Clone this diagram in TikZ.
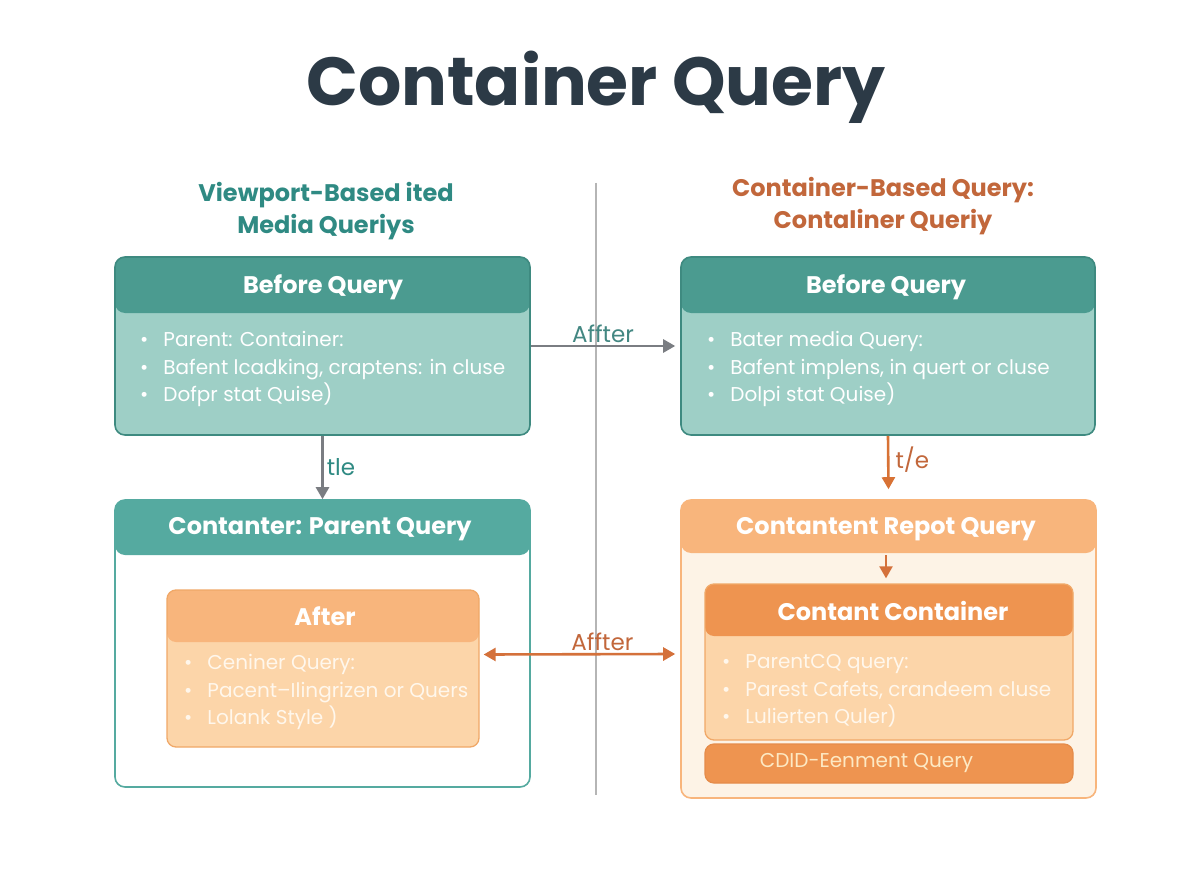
\documentclass[tikz,border=0pt]{standalone}
\usepackage{fontspec}
\setmainfont{Poppins}
\usetikzlibrary{arrows.meta,calc}
\definecolor{titlec}{HTML}{2C3A46}
\definecolor{tealh}{HTML}{4B9B90}
\definecolor{tealb}{HTML}{9ECFC6}
\definecolor{tealbd}{HTML}{3E8A80}
\definecolor{tealh2}{HTML}{55AAA0}
\definecolor{tealtx}{HTML}{2F8A83}
\definecolor{orgtx}{HTML}{C2673B}
\definecolor{peachh}{HTML}{F8B57C}
\definecolor{peachb}{HTML}{FCD5A9}
\definecolor{peachbd}{HTML}{F0A868}
\definecolor{creamb}{HTML}{FDF3E6}
\definecolor{orgh}{HTML}{EE9450}
\definecolor{orgbd}{HTML}{E58C4A}
\definecolor{cdidtx}{HTML}{FDE9C4}
\definecolor{grayar}{HTML}{7A7D82}
\definecolor{orgar}{HTML}{D4713B}
\definecolor{divc}{HTML}{B5B5B5}
\definecolor{softw}{HTML}{FFF7EC}
\tikzset{
  card/.style={rectangle, rounded corners=10pt, line width=1.6pt, inner sep=0pt},
  hdr/.style 2 args={path picture={\fill[#1] (path picture bounding box.north west) rectangle ([yshift=-#2]path picture bounding box.north east);}},
  hdrtext/.style={text=white, font=\bfseries\fontsize{24}{27}\selectfont},
  bul/.style={align=left, anchor=west, font=\fontsize{20}{27.5}\selectfont, inner sep=0pt},
  ghead/.style={align=center, font=\bfseries\fontsize{24}{32}\selectfont},
  arr/.style={line width=2.6pt, -{Triangle[width=13pt,length=12pt]}},
  darr/.style={line width=2.6pt, {Triangle[width=13pt,length=12pt]}-{Triangle[width=13pt,length=12pt]}},
  lbl/.style={font=\fontsize{23}{26}\selectfont, inner sep=1pt}
}
\newcommand{\bu}{•\hspace{15pt}}
\begin{document}
\begin{tikzpicture}[x=1pt,y=-1pt]
\useasboundingbox[fill=white] (0,0) rectangle (1184,880);
% title
\node[text=titlec, font=\bfseries\fontsize{68}{74}\selectfont] (title) at (596,87) {Container Query};
% divider
\coordinate (dtop) at (596,183);
\coordinate (dbot) at (596,795);
\draw[divc, line width=2.5pt] (dtop) -- (dbot);
% column headings
\node[ghead, text=tealtx] (lhead) at (326,211) {Viewport-Based ited\\Media Queriys};
\node[ghead, text=orgtx] (rhead) at (883,206) {Container-Based Query:\\Contaliner Queriy};
% left top card
\node[card, minimum width=415pt, minimum height=178pt, fill=tealb, draw=tealbd, hdr={tealh}{56pt}] (lt) at (322.5,346) {};
\node[hdrtext] (lth) at (323,287) {Before Query};
\node[bul, text=white] (ltb) at (140,369) {\bu Parent: Container:\\\bu Bafent lcadking, craptens: in cluse\\\bu Dofpr stat Quise)};
% right top card
\node[card, minimum width=414pt, minimum height=178pt, fill=tealb, draw=tealbd, hdr={tealh}{56pt}] (rt) at (888,346) {};
\node[hdrtext] (rth) at (886,287) {Before Query};
\node[bul, text=white] (rtb) at (707,369) {\bu Bater media Query:\\\bu Bafent implens, in quert or cluse\\\bu Dolpi stat Quise)};
% left bottom card
\node[card, minimum width=415pt, minimum height=287pt, fill=white, draw=tealh2, hdr={tealh2}{55pt}] (lb) at (322.5,643.5) {};
\node[hdrtext] (lbh) at (320,529) {Contanter: Parent Query};
\node[card, rounded corners=9pt, line width=1.3pt, minimum width=312pt, minimum height=157pt, fill=peachb, draw=peachbd, hdr={peachh}{52pt}] (la) at (323,668.5) {};
\node[hdrtext] (lah) at (325,616) {After};
\node[bul, text=softw] (lab) at (184,692) {\bu Ceniner Query:\\\bu Pacent–Ilingrizen or Quers\\\bu Lolank Style )};
% right bottom card
\node[card, minimum width=415pt, minimum height=298pt, fill=creamb, draw=peachh, hdr={peachh}{53pt}] (rb) at (888.5,649) {};
\node[hdrtext] (rbh) at (886,529) {Contantent Repot Query};
\node[card, rounded corners=9pt, line width=1.3pt, minimum width=368pt, minimum height=156pt, fill=peachb, draw=peachbd, hdr={orgh}{52pt}] (rc) at (889,662) {};
\node[hdrtext] (rch) at (893,611) {Contant Container};
\node[bul, text=softw] (rcb) at (722,691) {\bu ParentCQ query:\\\bu Parest Cafets, crandeem cluse\\\bu Lulierten Quler)};
\node[card, rounded corners=9pt, line width=1.2pt, minimum width=368pt, minimum height=39pt, fill=orgh, draw=orgbd, text=cdidtx, font=\fontsize{20}{22}\selectfont] (cdid) at (889,763.5) {\hspace{-45pt}CDID-Eenment Query};
% connectors
\draw[arr, grayar] (lt.east) -- node[lbl, text=tealtx!75!gray, above=1pt, pos=0.5] (l1) {Affter} ([xshift=-5pt]rt.west);
\draw[arr, grayar] (lt.south) -- node[lbl, text=tealtx, right=2pt, pos=0.5] (l2) {tle} (lb.north);
\draw[arr, orgar!90!orange] (rt.south) -- node[lbl, text=orgtx, right=5pt, pos=0.45] (l3) {t/e} ([yshift=10pt]rb.north);
\coordinate (rbin) at (886,555);
\draw[arr, orgar, line width=2.2pt] (rbin) -- ([xshift=-3pt, yshift=5pt]rc.north);
\draw[darr, orgar] ($(la.east)+(4,-14)$) -- node[lbl, text=orgtx, above=1pt, pos=0.62] (l4) {Affter} ($(rb.west)+(-5,5)$);
\end{tikzpicture}
\end{document}
